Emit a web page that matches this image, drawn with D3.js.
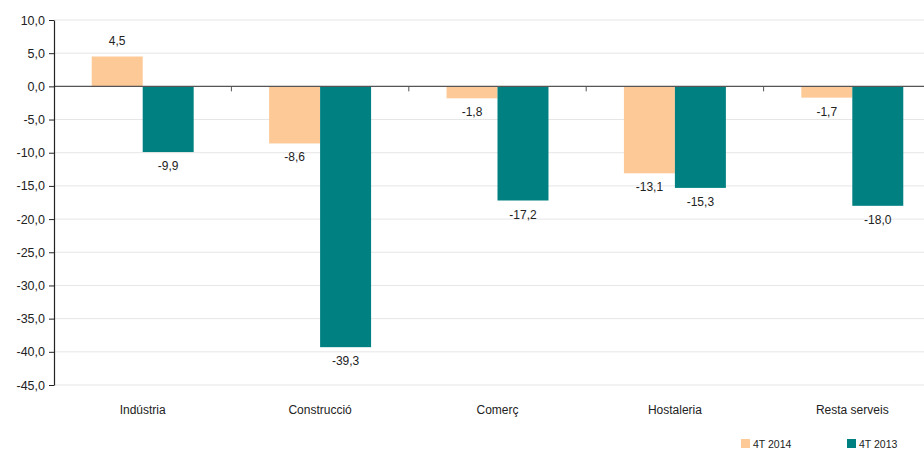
<!DOCTYPE html>
<html><head><meta charset="utf-8">
<script src="https://cdn.jsdelivr.net/npm/d3@7"></script>
<style>body{margin:0;background:#fff}svg{display:block;font-family:"Liberation Sans",Arial,sans-serif}</style>
</head><body>
<svg id="c" width="924" height="450"></svg>
<script>
const categories = ["Indústria","Construcció","Comerç","Hostaleria","Resta serveis"];
const seriesNames = ["4T 2014","4T 2013"];
const values2014 = [4.5,-8.6,-1.8,-13.1,-1.7];
const values2013 = [-9.9,-39.3,-17.2,-15.3,-18.0];
const yTicks = [10,5,0,-5,-10,-15,-20,-25,-30,-35,-40,-45];
const colors = ["#FDC997","#008080"];

(function(){
const svg = d3.select("#c");
const mLeft = 54, mRight = 941, mTop = 20, mBottom = 385;
const y = d3.scaleLinear().domain([-45,10]).range([mBottom, mTop]);
const x = d3.scaleBand().domain(categories).range([mLeft, mRight]).paddingInner(0).paddingOuter(0);
const inner = d3.scaleBand().domain(seriesNames).range([0, x.bandwidth()]).paddingInner(0).paddingOuter(0.74);
const fmt = v => v.toFixed(1).replace(".", ",");

svg.append("g").selectAll("line").data(yTicks.filter(t => t !== 0)).join("line")
  .attr("x1", mLeft).attr("x2", mRight).attr("y1", d => y(d)).attr("y2", d => y(d))
  .attr("stroke", "#e6e6e6").attr("stroke-width", 1);

const data = [values2014, values2013];
data.forEach((vals, si) => {
  const g = svg.append("g");
  g.selectAll("rect").data(vals).join("rect")
    .attr("x", (d,i) => x(categories[i]) + inner(seriesNames[si]))
    .attr("width", inner.bandwidth())
    .attr("y", d => y(Math.max(0,d)))
    .attr("height", d => Math.abs(y(d) - y(0)))
    .attr("fill", colors[si]);
  g.selectAll("text").data(vals).join("text")
    .attr("x", (d,i) => x(categories[i]) + inner(seriesNames[si]) + inner.bandwidth()/2)
    .attr("y", d => d >= 0 ? y(d) - 12 : y(d) + 18)
    .attr("text-anchor", "middle").attr("font-size", 12).attr("fill", "#222")
    .text(d => fmt(d));
});

svg.append("line").attr("x1", mLeft).attr("x2", mRight).attr("y1", y(0)).attr("y2", y(0))
  .attr("stroke", "#555").attr("stroke-width", 1.2);
svg.append("g").selectAll("line").data(categories.slice(1)).join("line")
  .attr("x1", d => x(d)).attr("x2", d => x(d)).attr("y1", y(0)).attr("y2", y(0) + 5)
  .attr("stroke", "#555");

const yAxis = d3.axisLeft(y).tickValues(yTicks).tickFormat(fmt).tickSize(5).tickSizeOuter(0);
const ya = svg.append("g").attr("transform", `translate(${mLeft},0)`).call(yAxis);
ya.select(".domain").attr("stroke", "#222").attr("stroke-width", 1.2);
ya.selectAll(".tick line").attr("stroke", "#222");
ya.selectAll("text").attr("font-size", 12.5).attr("fill", "#222").attr("font-family", "Liberation Sans, Arial, sans-serif").attr("dx", -1);

svg.append("g").selectAll("text").data(categories).join("text")
  .attr("x", d => x(d) + x.bandwidth()/2).attr("y", 414)
  .attr("text-anchor", "middle").attr("font-size", 12).attr("fill", "#222").text(d => d);

const legX = [741, 847];
seriesNames.forEach((s, i) => {
  svg.append("rect").attr("x", legX[i]).attr("y", 439).attr("width", 9).attr("height", 9).attr("fill", colors[i]);
  svg.append("text").attr("x", legX[i] + 12).attr("y", 448).attr("font-size", 10.5).attr("fill", "#222").text(s);
});
})();
</script>
</body></html>
